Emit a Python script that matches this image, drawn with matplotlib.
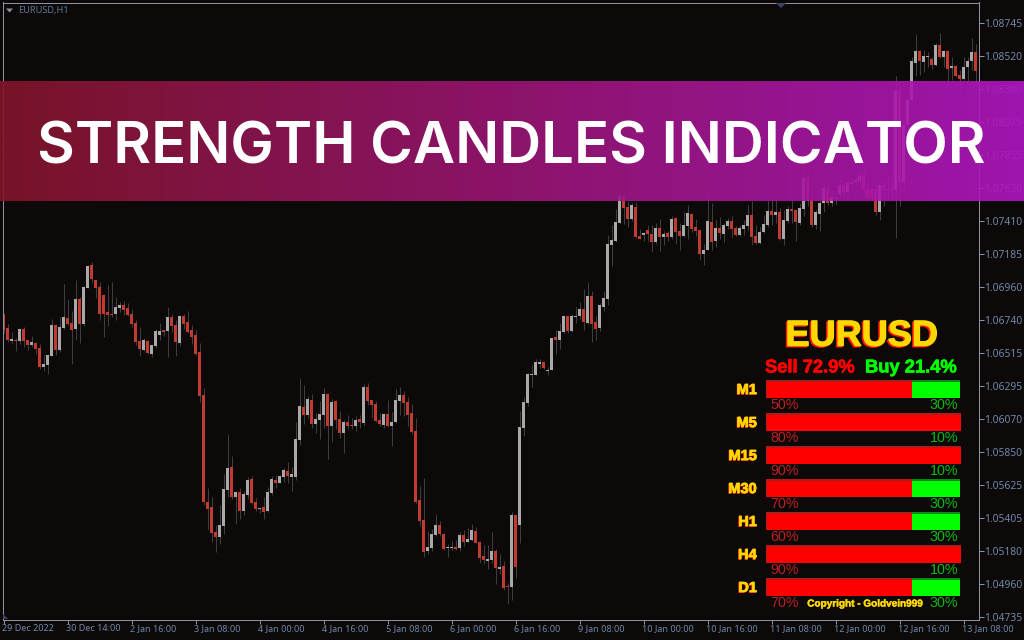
import numpy as np
import matplotlib
matplotlib.use("Agg")
import matplotlib.pyplot as plt
from matplotlib.patches import Polygon
from matplotlib.transforms import ScaledTranslation
import matplotlib.patheffects as pe

# --- candle data, in 1e-5 price units -------------------------------------------------
directions = ("RRGRGRRGRR" "GGGRGGRRGR" "GGRRRRRRGG" "RRRRRGRGGG" "RGRRGRRRRR"
              "RRRRGGGRGR" "GGRRGRGGRG" "GRGGGRGRGG" "GRGRRGRRGR" "GRRRRGRGGG"
              "RRRRRRGGGR" "RGGRGRGGRR" "RGGRGRRGRG" "GGGGGRGGRG" "GRGGGRGRRG"
              "GGGGGRRGRR" "GRRGRGRGRR" "GGRRRGGRGR" "GGRRGGGRRG" "GGRGRGGRRG"
              "GRRGGGRGGG" "RGGGGRRRRG" "RRRGRGGGGR" "GGRGRGRGRR" "GGGR")
body_top = [
106780,106686,106611,106605,106679,106679,106605,106591,106584,106550,
106442,106503,106706,106706,106692,106760,106753,106719,106881,106881,
106962,107104,107111,107010,106962,106908,106794,106780,106827,106841,
106841,106820,106780,106719,106598,106605,106598,106571,106665,106665,
106672,106760,106760,106706,106767,106767,106726,106672,106638,106523,
106233,105511,105477,105309,105356,105599,105740,105747,105578,105578,
105565,105660,105666,105511,105470,105478,105579,105667,105660,105687,
105728,105721,105701,105937,106160,106153,106207,106200,106072,106106,
106241,106241,106187,106193,106072,106052,106052,106031,106065,106072,
106288,106288,106200,106173,106065,106106,106106,106052,106200,106234,
106234,106187,106112,105991,105525,105390,105208,105296,105356,105356,
105296,105208,105208,105208,105289,105289,105262,105323,105316,105242,
105147,105127,105181,105181,105073,105080,104945,105424,105424,106018,
106187,106376,106375,106456,106456,106456,106402,106618,106625,106665,
106767,106767,106767,106767,106814,106814,106902,106902,106726,106841,
106888,107253,107280,107401,107577,107577,107502,107516,107502,107306,
107327,107347,107320,107360,107360,107320,107327,107421,107428,107340,
107381,107462,107455,107367,107347,107212,107408,107401,107360,107360,
107381,107408,107408,107360,107360,107381,107449,107449,107307,107334,
107388,107476,107476,107469,107469,107415,107489,107489,107483,107496,
107699,107699,107550,107469,107530,107631,107624,107570,107570,107651,
107651,107665,107671,107685,107712,107719,107624,107624,107624,107651,
107651,107624,107624,108286,108293,108056,108225,108488,108556,108556,
108522,108522,108502,108596,108596,108556,108556,108455,108455,108394,
108448,108488,108549,108549]
body_bottom = [
106672,106605,106598,106598,106598,106598,106571,106571,106544,106422,
106422,106436,106496,106537,106537,106686,106712,106672,106679,106712,
106712,106956,107016,106956,106780,106780,106773,106773,106780,106820,
106807,106773,106712,106591,106544,106537,106517,106510,106564,106638,
106659,106665,106699,106591,106584,106712,106659,106625,106510,106226,
105511,105464,105302,105275,105275,105349,105592,105545,105545,105450,
105450,105558,105504,105464,105464,105444,105451,105572,105640,105640,
105680,105687,105680,105680,105930,106099,106099,106038,106038,106065,
106099,106025,106025,106065,105977,105977,106025,106025,106025,106052,
106045,106193,106166,106058,106038,106031,106025,106025,106052,106193,
106180,106099,105984,105512,105383,105174,105181,105201,105289,105296,
105194,105201,105201,105194,105201,105242,105242,105255,105235,105134,
105120,105113,105120,105066,105059,104931,104938,104938,105073,105356,
106011,106180,106368,106368,106443,106416,106395,106402,106605,106605,
106659,106665,106665,106760,106767,106726,106719,106712,106679,106685,
106827,106881,107246,107273,107394,107496,107421,107421,107300,107286,
107313,107320,107266,107266,107300,107300,107300,107300,107333,107306,
107306,107374,107354,107340,107185,107185,107212,107266,107273,107327,
107320,107374,107354,107313,107313,107354,107375,107300,107260,107260,
107334,107381,107449,107449,107287,107287,107408,107476,107402,107395,
107489,107543,107381,107381,107456,107530,107530,107530,107563,107590,
107604,107604,107658,107671,107678,107618,107563,107563,107469,107469,
107618,107618,107613,107618,107672,107672,108056,108225,108475,108488,
108482,108515,108461,108461,108515,108515,108434,108441,108387,108367,
108367,108448,108488,108421]
highs = [
106780,106712,106659,106618,106686,106692,106605,106632,106591,106578,
106503,106510,106746,106712,106760,106983,106881,106800,107010,106895,
106969,107111,107131,107010,106996,106915,106976,106996,106895,106861,
106868,106854,106814,106740,106692,106618,106605,106571,106679,106719,
106672,106827,106780,106740,106773,106780,106800,106706,106672,106584,
106280,105605,105545,105356,105491,105700,105970,105822,105585,105605,
105585,105680,105686,105538,105470,105545,105613,105687,105694,105694,
105741,105782,105748,106052,106349,106301,106227,106241,106112,106193,
106281,106247,106207,106200,106126,106065,106099,106079,106092,106099,
106308,106315,106200,106193,106112,106106,106200,106119,106274,106288,
106261,106220,106173,106079,105620,105674,105316,105329,105431,105383,
105302,105228,105248,105255,105309,105323,105336,105363,105343,105248,
105221,105221,105309,105194,105161,105113,104965,105444,105431,106126,
106220,106382,106436,106476,106476,106456,106422,106618,106672,106719,
106773,106767,106780,106827,106861,106949,106996,106935,106767,106854,
106935,107313,107381,107489,107597,107597,107543,107529,107536,107354,
107333,107381,107381,107394,107421,107340,107340,107441,107435,107394,
107469,107516,107462,107421,107354,107252,107590,107529,107414,107435,
107394,107428,107441,107374,107381,107415,107516,107543,107381,107370,
107449,107550,107550,107572,107494,107483,107510,107550,107483,107532,
107775,107753,107618,107483,107572,107685,107662,107618,107606,107685,
107685,107707,107707,107719,107753,107741,107662,107651,107651,107685,
107685,107707,107685,108387,108315,108100,108240,108518,108671,108563,
108563,108549,108518,108608,108677,108563,108563,108518,108461,108428,
108518,108518,108644,108603]
lows = [
106654,106591,106584,106530,106578,106557,106537,106557,106510,106409,
106395,106375,106496,106503,106523,106679,106706,106442,106605,106584,
106699,106956,106996,106888,106740,106625,106699,106760,106740,106794,
106773,106767,106692,106571,106496,106530,106510,106490,106550,106605,
106632,106490,106659,106496,106564,106679,106652,106578,106503,106186,
105491,105329,105241,105176,105228,105295,105545,105531,105362,105396,
105423,105531,105498,105450,105437,105397,105444,105559,105606,105640,
105647,105640,105586,105660,105896,106038,106079,106011,105977,105937,
106011,105802,105916,106004,105944,105842,106004,106004,105991,106011,
106025,106166,106079,106052,106025,106011,106018,105890,106045,106099,
106092,106025,105971,105505,105350,105140,105161,105181,105282,105282,
105188,105140,105188,105188,105181,105215,105242,105248,105235,105100,
105093,105059,105100,104958,105026,104918,104823,104850,104999,105235,
105957,106160,106287,106368,106416,106409,106368,106402,106510,106544,
106652,106652,106659,106719,106746,106672,106712,106591,106605,106665,
106800,106841,107104,107266,107394,107387,107367,107408,107293,107286,
107273,107273,107198,107252,107205,107246,107273,107286,107252,107212,
107300,107286,107333,107306,107144,107111,107212,107212,107232,107286,
107266,107354,107300,107306,107306,107314,107348,107246,107253,107253,
107325,107370,107381,107393,107280,107246,107393,107393,107273,107381,
107442,107510,107370,107354,107341,107469,107516,107510,107516,107572,
107572,107583,107640,107640,107640,107606,107557,107550,107449,107415,
107510,107572,107550,107294,107510,107600,107990,108218,108387,108394,
108416,108450,108434,108455,108509,108450,108315,108360,108378,108293,
108360,108353,108428,108338]

price_ticks = ["1.04735","1.04960","1.05180","1.05405","1.05625","1.05850","1.06070",
               "1.06295","1.06515","1.06740","1.06960","1.07185","1.07410","1.07630",
               "1.07855","1.08075","1.08300","1.08520","1.08745"]
time_labels = ["29 Dec 2022","30 Dec 14:00","2 Jan 16:00","3 Jan 08:00","4 Jan 00:00",
               "4 Jan 16:00","5 Jan 08:00","6 Jan 00:00","6 Jan 16:00","9 Jan 08:00",
               "10 Jan 00:00","10 Jan 16:00","11 Jan 08:00","12 Jan 00:00","12 Jan 16:00",
               "13 Jan 08:00"]

# --- dashboard data -------------------------------------------------------------------
timeframes = ["M1","M5","M15","M30","H1","H4","D1"]
buy_share = [25,0,0,25,25,0,25]
sell_pct = [50,80,90,70,60,90,70]
buy_pct = [30,10,10,30,30,10,30]
sell_total = "Sell 72.9%"
buy_total = "Buy 21.4%"
symbol = "EURUSD"

BG = "#0c0908"
W, H = 1024, 640
AXIS = "#8a92a6"
LABEL = "#7088aa"
SANS = "Noto Sans"
ARIAL = "Liberation Sans"

fig = plt.figure(figsize=(W/100, H/100), dpi=100, facecolor=BG)

def box(l, t, r, b):
    return [l/W, 1-b/H, (r-l)/W, (b-t)/H]

# --- price chart ----------------------------------------------------------------------
ax = fig.add_axes(box(2.5, 2.5, 978.5, 619.5), facecolor=BG)
idx = np.arange(len(body_top))
top = np.array(body_top)/1e5
bot = np.array(body_bottom)/1e5
hi = np.array(highs)/1e5
lo = np.array(lows)/1e5
colors = ["#c03c2e" if d == "R" else "#a9a9a9" for d in directions]
ax.vlines(idx, lo, hi, color="#3e3e40", lw=0.72, zorder=1)
ax.bar(idx, np.maximum(top-bot, 0.00007), bottom=bot, width=0.75, color=colors, lw=0, zorder=2)
ax.set_xlim(-0.25, 243.75)
ax.set_ylim(1.04718, 1.08883)
ax.yaxis.tick_right()
ax.set_yticks([float(t) for t in price_ticks], price_ticks, fontfamily=SANS, fontsize=7.4, color=LABEL)
ax.set_xticks(np.arange(len(time_labels))*16, time_labels, fontfamily=SANS, fontsize=6.5, color=LABEL, ha="left")
ax.tick_params(axis="y", length=3.5, width=0.72, color=AXIS, pad=0.3)
ax.tick_params(axis="x", length=3, width=0.72, color=AXIS, pad=0.4)
shift_left = ScaledTranslation(-1.5/100, 0, fig.dpi_scale_trans)
for lab in ax.get_xticklabels():
    lab.set_transform(lab.get_transform()+shift_left)
for s in ax.spines.values():
    s.set_color(AXIS)
    s.set_linewidth(0.72)
ax.text(18/W, 1-10/H, "EURUSD,H1", transform=fig.transFigure, family=SANS, fontsize=6.6,
        color="#5f7896", va="center", ha="left")
fig.add_artist(Polygon([[6/W,1-8.5/H],[13/W,1-8.5/H],[9.5/W,1-12.5/H]], transform=fig.transFigure, color="#8a92a6", lw=0))
fig.add_artist(Polygon([[776/W,1-3/H],[786/W,1-3/H],[781/W,1-8/H]], transform=fig.transFigure, color="#3a4468", lw=0))
fig.add_artist(Polygon([[3/W,1-614/H],[3/W,1-619/H],[8/W,1-619/H]], transform=fig.transFigure, color="#3a4468", lw=0))

# --- dashboard ------------------------------------------------------------------------
pan = fig.add_axes(box(766, 372.5, 961, 603.5))
pan.patch.set_alpha(0)
pan.axis("off")
pan.set_xlim(0, 100)
pan.set_ylim(6.5, -0.5)
rows = np.arange(len(timeframes))
full = 18/33
inner = 16/33
shift = 1/33
buy = np.array(buy_share)
sell = 100-buy
pan.barh(rows, sell, height=full, color="#b01c1c", lw=0)
pan.barh(rows+shift, sell-0.6, left=0.6, height=inner, color="#ff0000", lw=0)
pan.barh(rows, np.maximum(buy-0.3, 0), left=sell, height=full, color="#0a8a1a", lw=0)
pan.barh(rows+shift, np.maximum(buy-0.3, 0), left=sell, height=inner, color="#00ff00", lw=0)

def label(x, y, s, dx=0, dy=0, shadow=None, sdx=-1.2, sdy=-0.8, stroke=0, color="white", **kw):
    px = 0.72
    fx = [pe.withStroke(linewidth=stroke, foreground=color)] if stroke else []
    if shadow:
        fx2 = [pe.withStroke(linewidth=stroke, foreground=shadow)] if stroke else []
        pan.annotate(s, (x, y), xytext=((dx+sdx)*px, (dy+sdy)*px), textcoords="offset points",
                     color=shadow, annotation_clip=False, path_effects=fx2, **kw)
    pan.annotate(s, (x, y), xytext=(dx*px, dy*px), textcoords="offset points",
                 color=color, annotation_clip=False, path_effects=fx, **kw)

bold = dict(family=ARIAL, weight="bold", va="center")
label(49, -1.6, symbol, ha="center", fontsize=26, color="#ffd800", shadow="#ff1010",
      sdx=-1.5, sdy=-1.2, stroke=0.9, **bold)
label(0, -0.64, sell_total, dx=-1, ha="left", fontsize=13.2, color="#ff0000", stroke=0.5, **bold)
label(100, -0.64, buy_total, dx=-4, ha="right", fontsize=13.2, color="#00ff00", stroke=0.5, **bold)
for i, tf in enumerate(timeframes):
    label(0, i+0.03, tf, dx=-9, ha="right", fontsize=10.5, color="#ffd800", shadow="#ff2010",
          sdx=-0.6, sdy=-0.5, stroke=0.5, **bold)
    label(0, i+0.49, f"{sell_pct[i]}%", dx=4, ha="left", va="center", family=ARIAL, fontsize=10.3, color="#b82222")
    label(100, i+0.49, f"{buy_pct[i]}%", dx=-3, ha="right", va="center", family=ARIAL, fontsize=10.3, color="#0cb814")
label(50.8, 6.5, "Copyright - Goldvein999", ha="center", fontsize=7.2, color="#ffd800", stroke=0.3, **bold)

# --- banner ---------------------------------------------------------------------------
ban = fig.add_axes(box(0, 81, W, 201))
ban.axis("off")
ban.patch.set_alpha(0)
grad = np.zeros((1, 256, 4))
t = np.linspace(0, 1, 256)
grad[0, :, 0] = 131+(175-131)*t
grad[0, :, 1] = 21+(23-21)*t
grad[0, :, 2] = 43+(191-43)*t
grad[0, :, :3] /= 255
grad[0, :, 3] = 0.91
ban.imshow(grad, extent=[0, 1, 0, 1], aspect="auto", interpolation="bilinear", transform=ban.transAxes)
ban.set_xlim(0, 1)
ban.set_ylim(0, 1)
ban.text(511.5/W, (201-163)/120, "STRENGTH CANDLES INDICATOR", transform=ban.transAxes,
         ha="center", va="baseline", color="white", family="Inter", weight="semibold", fontsize=41.8)

fig.savefig("out.png", dpi=100, facecolor=BG)
